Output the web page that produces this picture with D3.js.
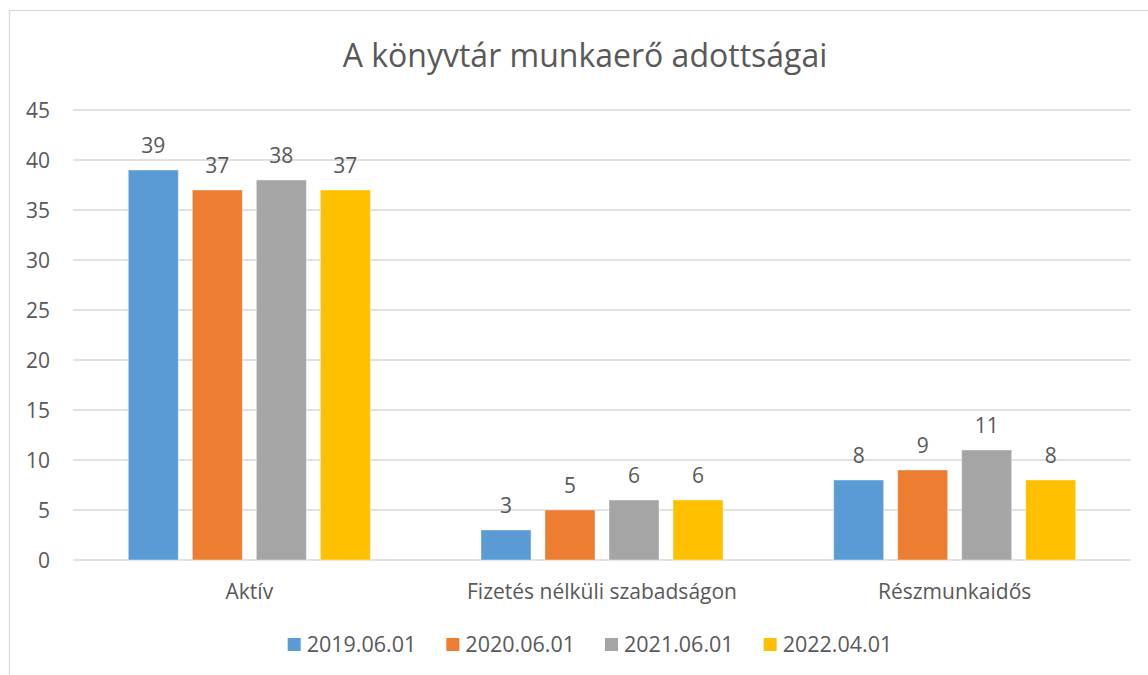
<!DOCTYPE html>
<html>
<head>
<meta charset="utf-8">
<script src="https://cdn.jsdelivr.net/npm/d3@7"></script>
<style>
  body { margin: 0; background: #fff; }
  text { font-family: "Open Sans", sans-serif; fill: #595959; }
</style>
</head>
<body>
<div id="chart"></div>
<script>
// data
var categories = ["Aktív", "Fizetés nélküli szabadságon", "Részmunkaidős"];
var series = ["2019.06.01", "2020.06.01", "2021.06.01", "2022.04.01"];
var colors = ["#5B9BD5", "#ED7D31", "#A5A5A5", "#FFC000"];
var values2019 = [39, 3, 8];
var values2020 = [37, 5, 9];
var values2021 = [38, 6, 11];
var values2022 = [37, 6, 8];
var yTicks = [0, 5, 10, 15, 20, 25, 30, 35, 40, 45];

var allValues = [values2019, values2020, values2021, values2022];

var width = 1148, height = 675;
var svg = d3.select("#chart").append("svg")
  .attr("width", width)
  .attr("height", height);

// chart frame
svg.append("rect")
  .attr("x", 9.5).attr("y", 10.5)
  .attr("width", 1160).attr("height", 700)
  .attr("fill", "#fff")
  .attr("stroke", "#d9d9d9")
  .attr("stroke-width", 1.3);

// title
svg.append("text")
  .attr("x", 585).attr("y", 67)
  .attr("text-anchor", "middle")
  .style("font-size", "32px")
  .text("A könyvtár munkaerő adottságai");

// scales
var x0 = d3.scaleBand()
  .domain(categories)
  .range([73, 1131])
  .paddingInner(0.274)
  .paddingOuter(0.137);

var x1 = d3.scaleBand()
  .domain(series)
  .range([0, x0.bandwidth()])
  .paddingInner(0.21875)
  .paddingOuter(0.109375);

var y = d3.scaleLinear()
  .domain([0, 45])
  .range([560, 110]);

// gridlines
svg.append("g")
  .selectAll("line")
  .data(yTicks)
  .join("line")
  .attr("x1", 73).attr("x2", 1131)
  .attr("y1", d => y(d)).attr("y2", d => y(d))
  .attr("stroke", "#d9d9d9")
  .attr("stroke-width", 1.3);

// y axis labels
svg.append("g")
  .selectAll("text")
  .data(yTicks)
  .join("text")
  .attr("x", 50)
  .attr("y", d => y(d))
  .attr("dy", "0.36em")
  .attr("text-anchor", "end")
  .style("font-size", "21px")
  .text(d => d);

// bars
var groups = svg.append("g")
  .selectAll("g")
  .data(categories)
  .join("g")
  .attr("transform", d => "translate(" + x0(d) + ",0)");

groups.selectAll("rect")
  .data((d, i) => series.map((s, j) => ({ s: s, v: allValues[j][i], c: colors[j] })))
  .join("rect")
  .attr("x", d => x1(d.s))
  .attr("y", d => y(d.v))
  .attr("width", x1.bandwidth())
  .attr("height", d => y(0) - y(d.v))
  .attr("fill", d => d.c)
  .attr("stroke", "#fff")
  .attr("stroke-opacity", 0.4)
  .attr("stroke-width", 1);

// value labels
groups.selectAll("text")
  .data((d, i) => series.map((s, j) => ({ s: s, v: allValues[j][i] })))
  .join("text")
  .attr("x", d => x1(d.s) + x1.bandwidth() / 2)
  .attr("y", d => y(d.v) - 17)
  .attr("text-anchor", "middle")
  .style("font-size", "21px")
  .text(d => d.v);

// category labels
svg.append("g")
  .selectAll("text")
  .data(categories)
  .join("text")
  .attr("x", d => x0(d) + x0.bandwidth() / 2)
  .attr("y", 599)
  .attr("text-anchor", "middle")
  .style("font-size", "21px")
  .text(d => d);

// legend
var legend = svg.append("g");
var items = legend.selectAll("g")
  .data(series)
  .join("g");

items.append("rect")
  .attr("y", 638)
  .attr("width", 13).attr("height", 13)
  .attr("fill", (d, i) => colors[i]);

items.append("text")
  .attr("x", 19)
  .attr("y", 652)
  .style("font-size", "21.5px")
  .text(d => d);

// place legend items side by side, centered
var offset = 0, widths = [];
items.each(function() {
  var w = this.querySelector("text").getComputedTextLength() + 19;
  widths.push(w);
});
var gap = 30;
var total = d3.sum(widths) + gap * (widths.length - 1);
var start = 590 - total / 2;
items.attr("transform", function(d, i) {
  var tx = start + offset;
  offset += widths[i] + gap;
  return "translate(" + tx + ",0)";
});
</script>
</body>
</html>
